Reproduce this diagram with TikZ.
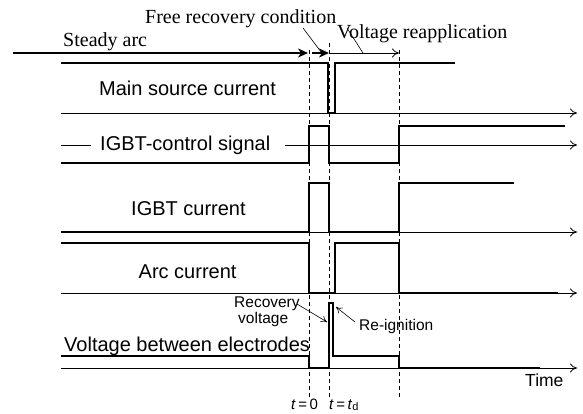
\documentclass[tikz,border=0pt]{standalone}
\usepackage{fontspec}
\setmainfont{Liberation Serif}
\setsansfont{Liberation Sans}
\usetikzlibrary{arrows.meta}
\begin{document}
\begin{tikzpicture}[x=1pt,y=-1pt,
  sig/.style={line width=2pt, line join=miter, line cap=butt},
  axis/.style={line width=0.8pt,-{To[length=7pt,width=9pt]}},
  guide/.style={line width=0.7pt, dash pattern=on 4pt off 3pt},
  lbl/.style={font=\sffamily\fontsize{20}{24}\selectfont, inner sep=0pt, anchor=base west},
  slbl/.style={font=\sffamily\fontsize{15.5}{18}\selectfont, inner sep=0pt, anchor=base west},
  tlbl/.style={font=\sffamily\fontsize{15}{18}\selectfont, inner sep=0pt, anchor=base west},
  serif/.style={font=\rmfamily\fontsize{20}{24}\selectfont, inner sep=0pt, anchor=base west},
  lead/.style={line width=0.6pt},
  leadarrow/.style={line width=0.6pt,-{To[length=6pt,width=7pt]}},
  bigarrow/.style={line width=2pt,-{Stealth[length=10pt,width=9pt,inset=3pt]}},
  thinarrow/.style={line width=0.8pt,-{To[length=7pt,width=9pt]}},
  ]
\useasboundingbox (0,0) rectangle (583,414);

% dashed guide lines
\coordinate (g0t) at (309,50);  \coordinate (g0b) at (309,397);
\coordinate (gdt) at (329,43);  \coordinate (gdb) at (329,397);
\coordinate (gvt) at (399,50);  \coordinate (gvb) at (399,397);
\draw[guide] (g0t) -- (g0b);
\draw[guide] (gdt) -- (gdb);
\draw[guide] (gvt) -- (gvb);

% top phase arrows
\coordinate (sa0) at (13,53);  \coordinate (sa1) at (308,53);
\coordinate (fr0) at (312,53); \coordinate (fr1) at (329,53);
\coordinate (vr0) at (329,53); \coordinate (vr1) at (399,53);
\draw[bigarrow] (sa0) -- (sa1);
\draw[bigarrow] (fr0) -- (fr1);
\draw[thinarrow] (vr0) -- (vr1);

\node[serif] (steady) at (63,47) {Steady arc};
\node[serif] (free) at (145,24) {Free recovery condition};
\node[serif] (reapp) at (337,38.5) {Voltage reapplication};
\coordinate (frl0) at (303,28); \coordinate (frl1) at (321,52);
\coordinate (vrl0) at (347,28); \coordinate (vrl1) at (363,53);
\draw[lead] (frl0) -- (frl1);
\draw[lead] (vrl0) -- (vrl1);

% axes
\coordinate (a1s) at (61,113); \coordinate (a1e) at (577,113);
\coordinate (a2s) at (61,145); \coordinate (a2m) at (91,145);
\coordinate (a2n) at (285,145); \coordinate (a2e) at (577,145);
\coordinate (a3s) at (61,232); \coordinate (a3e) at (577,232);
\coordinate (a4s) at (61,293); \coordinate (a4e) at (577,293);
\coordinate (a5s) at (61,368); \coordinate (a5e) at (577,368);
\draw[axis] (a1s) -- (a1e);
\draw[line width=0.8pt] (a2s) -- (a2m);
\draw[axis] (a2n) -- (a2e);
\draw[axis] (a3s) -- (a3e);
\draw[axis] (a4s) -- (a4e);
\draw[axis] (a5s) -- (a5e);

% signals
\draw[sig] (61,63) -- (328,63) -- (328,113) -- (335,113) -- (335,63) -- (455,63);
\draw[sig] (61,163) -- (309,163) -- (309,126) -- (329,126) -- (329,163) -- (399,163) -- (399,126) -- (565,126);
\draw[sig] (61,232) -- (309,232) -- (309,183) -- (329,183) -- (329,232) -- (399,232) -- (399,183) -- (514,183);
\draw[sig] (61,243) -- (309,243) -- (309,293) -- (335,293) -- (335,243) -- (399,243) -- (399,293) -- (558,293);
\draw[sig] (61,356) -- (309,356) -- (309,368) -- (329,368) -- (329,303) -- (333,303) -- (333,356) -- (399,356) -- (399,368) -- (540,368);

% labels
\node[lbl] (main) at (99,96) {Main source current};
\node[lbl] (ctrl) at (100,150.5) {IGBT-control signal};
\node[lbl] (igbt) at (131,215) {IGBT current};
\node[lbl] (arc) at (138.5,278) {Arc current};
\node[lbl] (volt) at (64,351) {Voltage between electrodes};
\node[font=\sffamily\fontsize{17.5}{20}\selectfont, inner sep=0pt, anchor=base west] (time) at (525,386) {Time};
\node[slbl] (rec1) at (234,307.5) {Recovery};
\node[slbl] (rec2) at (238,323.5) {voltage};
\node[slbl] (reig) at (359,330) {Re-ignition};
\coordinate (rl0) at (297,304); \coordinate (rl1) at (327,322);
\coordinate (il0) at (355,322); \coordinate (il1) at (336,307);
\draw[leadarrow] (rl0) -- (rl1);
\draw[leadarrow] (il0) -- (il1);

\node[tlbl] (t0) at (291,409) {\textit{t}\,=\,0};
\node[tlbl] (td) at (329,409) {\textit{t}\,=\,\textit{t}\raisebox{-0.12em}{\fontsize{11}{12}\selectfont d}};
\end{tikzpicture}
\end{document}
